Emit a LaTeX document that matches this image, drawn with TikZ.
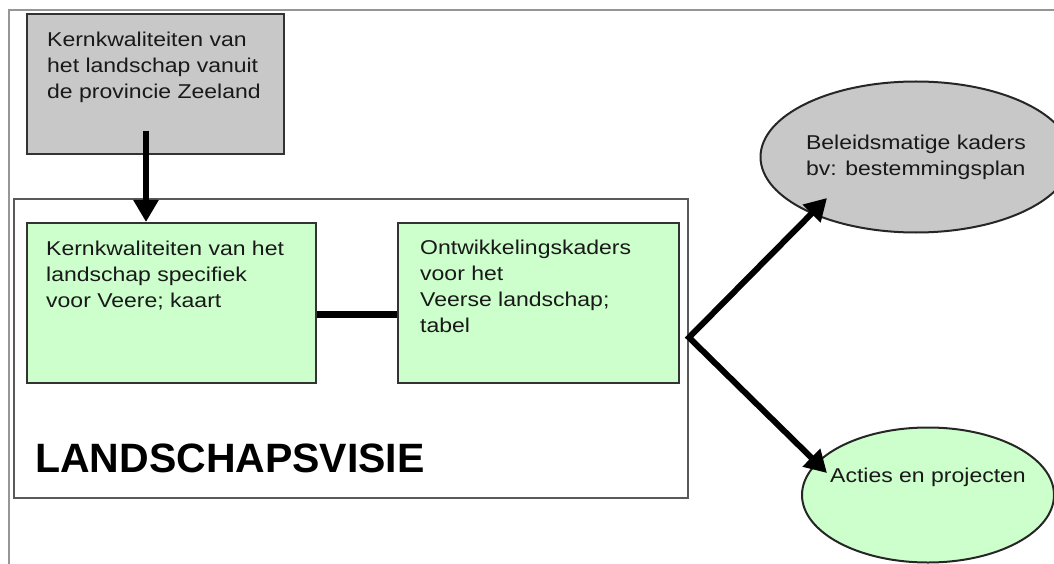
\documentclass[tikz,border=0pt]{standalone}
\usepackage{fontspec}
\setmainfont{Liberation Sans}
\newfontfamily\labfont{Liberation Sans}[FakeStretch=1.15]
\usetikzlibrary{arrows.meta,shapes.geometric}
\definecolor{boxgreen}{RGB}{204,255,204}
\definecolor{boxgray}{RGB}{200,200,200}
\definecolor{framegray}{RGB}{150,150,150}
\definecolor{txt}{RGB}{25,25,25}
\begin{document}
\begin{tikzpicture}[x=1pt,y=-1pt,
  rectbox/.style={draw=black!80, line width=2pt, anchor=north west, inner sep=0pt},
  lab/.style={anchor=north west, inner sep=0pt, align=left, text=txt, font=\labfont\fontsize{20}{26}\selectfont},
  ellbox/.style={ellipse, draw=black!85, line width=2pt, inner sep=0pt, align=left, text=txt, font=\labfont\fontsize{20}{26}\selectfont},
  arr/.style={line width=6pt, -{Triangle[length=22pt,width=24pt]}},
  link/.style={line width=7pt}
  ]
\useasboundingbox (0,0) rectangle (1054,564);
% outer frame
\draw[framegray, line width=2pt] (9,564) -- (9,10.5) -- (1054,10.5);
% boxes
\node[rectbox, fill=boxgray, minimum width=257pt, minimum height=140pt] (zee) at (26,13) {};
\node[lab] (zeet) at (47,32) {Kernkwaliteiten van\\het landschap vanuit\\de provincie Zeeland};
\node[rectbox, draw=black!65, fill=white, minimum width=674pt, minimum height=299pt] (vis) at (13,198) {};
\node[rectbox, fill=boxgreen, minimum width=289pt, minimum height=160pt] (k1) at (26,222) {};
\node[lab] (k1t) at (46,241) {Kernkwaliteiten van het\\landschap specifiek\\voor Veere; kaart};
\node[rectbox, fill=boxgreen, minimum width=281pt, minimum height=160pt] (k2) at (397,222) {};
\node[lab] (k2t) at (420,240) {Ontwikkelingskaders\\voor het\\Veerse landschap;\\tabel};
\node[anchor=base west, inner sep=0pt, font=\bfseries\fontsize{41}{48}\selectfont] (title) at (35,472) {LANDSCHAPSVISIE};
% ellipses
\node[ellbox, fill=boxgray, minimum width=274pt, minimum height=151pt] (bel) at (916,157) {Beleidsmatige kaders\\bv: bestemmingsplan};
\node[ellbox, fill=boxgreen, minimum width=252pt, minimum height=135pt] (act) at (928,495) {};
\node[inner sep=0pt, text=txt, font=\labfont\fontsize{20}{26}\selectfont] (actt) at ([yshift=18pt]act.center) {Acties en projecten};
% connectors
\coordinate (a0) at ([xshift=-9.5pt,yshift=24pt]zee.south);
\draw[arr] (a0) -- ([xshift=-25.5pt]k1.north);
\draw[link] ([yshift=-11pt]k1.east) -- ([yshift=-11pt]k2.west);
\coordinate (fork) at ([yshift=11pt]vis.east);
\coordinate (t1) at (827,198);
\coordinate (t2) at (827,473);
\draw[line width=6pt, {Triangle[length=22pt,width=24pt]}-{Triangle[length=22pt,width=24pt]}] (t1) -- (fork) -- (t2);
\end{tikzpicture}
\end{document}
